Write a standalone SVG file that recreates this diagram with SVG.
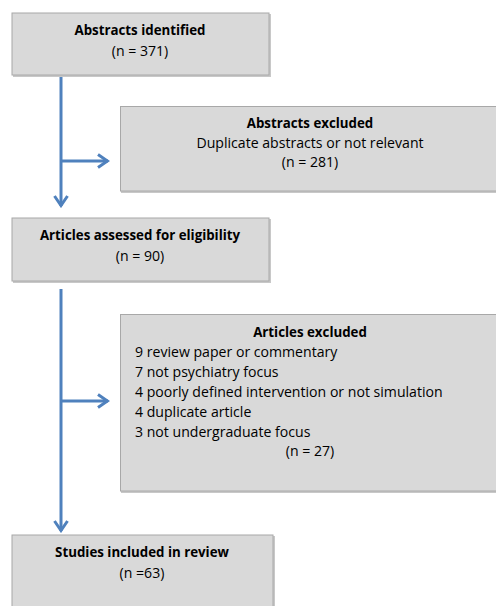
<svg xmlns="http://www.w3.org/2000/svg" width="496" height="606" viewBox="0 0 496 606">
<defs>
<style>
.box{fill:#d9d9d9;stroke:#a8a8a8;stroke-width:1}
.sh{fill:#c8c8c8}
.t{font-family:"Open Sans","Liberation Sans",Arial,sans-serif;font-size:14.1px;fill:#000}
.b{font-weight:bold;font-size:13.3px}
.c{text-anchor:middle}
.ln{stroke:#4f81bd;stroke-width:3;fill:none}
</style>
<marker id="ah" viewBox="0 0 13 16" refX="11.5" refY="8" markerWidth="13" markerHeight="16" markerUnits="userSpaceOnUse" orient="auto">
<polyline points="1.5,1.5 11,8 1.5,14.5" fill="none" stroke="#4f81bd" stroke-width="3" stroke-linejoin="miter"/>
</marker>
</defs>
<rect width="496" height="606" fill="#fff"/>
<g id="connectors">
<line class="ln" x1="61" y1="77" x2="61" y2="206" marker-end="url(#ah)"/>
<line class="ln" x1="61" y1="161" x2="108" y2="161" marker-end="url(#ah)"/>
<line class="ln" x1="61" y1="289" x2="61" y2="531" marker-end="url(#ah)"/>
<line class="ln" x1="61" y1="401" x2="108" y2="401" marker-end="url(#ah)"/>
</g>
<g id="n1">
<rect class="sh" x="13" y="14" width="258" height="63"/>
<rect class="box" x="12" y="13" width="257" height="62"/>
<text class="t b c" x="140" y="35">Abstracts identified</text>
<text class="t c" x="140" y="56">(n = 371)</text>
</g>
<g id="n2">
<rect class="sh" x="121" y="107" width="380" height="86"/>
<rect class="box" x="120.5" y="106.5" width="380" height="84.5"/>
<text class="t b c" x="310" y="128">Abstracts excluded</text>
<text class="t c" x="310" y="147.5">Duplicate abstracts or not relevant</text>
<text class="t c" x="310" y="167">(n = 281)</text>
</g>
<g id="n3">
<rect class="sh" x="13" y="219" width="258" height="64"/>
<rect class="box" x="12" y="218" width="257" height="63"/>
<text class="t b c" x="140" y="240">Articles assessed for eligibility</text>
<text class="t c" x="140" y="261">(n = 90)</text>
</g>
<g id="n4">
<rect class="sh" x="121" y="315" width="380" height="178"/>
<rect class="box" x="120.5" y="314.5" width="380" height="176.5"/>
<text class="t b c" x="310" y="337">Articles excluded</text>
<text class="t" x="135" y="357">9 review paper or commentary</text>
<text class="t" x="135" y="377">7 not psychiatry focus</text>
<text class="t" x="135" y="397">4 poorly defined intervention or not simulation</text>
<text class="t" x="135" y="416.5">4 duplicate article</text>
<text class="t" x="135" y="436.5">3 not undergraduate focus</text>
<text class="t c" x="310" y="456">(n = 27)</text>
</g>
<g id="n5">
<rect class="sh" x="13" y="536" width="262" height="72"/>
<rect class="box" x="12" y="535" width="261" height="75"/>
<text class="t b c" x="142" y="557">Studies included in review</text>
<text class="t c" x="142" y="578">(n =63)</text>
</g>
</svg>
